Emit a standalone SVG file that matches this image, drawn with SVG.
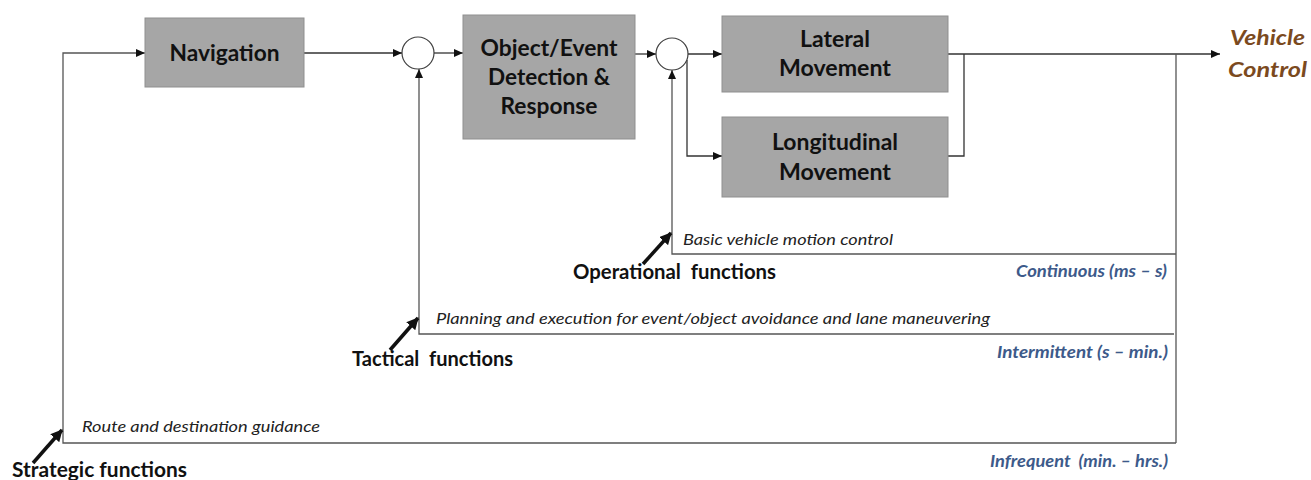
<svg xmlns="http://www.w3.org/2000/svg" width="1311" height="480" viewBox="0 0 1311 480">
<style>
text{lengthAdjust:spacingAndGlyphs}
.box{fill:#a6a6a6;stroke:#8f8f8f;stroke-width:1}
.sum{fill:#fff;stroke:#404040;stroke-width:1.2}
.bt{font-family:Lato,"Open Sans","Liberation Sans",sans-serif;font-weight:bold;font-size:23px;fill:#111;text-anchor:middle}
.ln{fill:none;stroke:#333;stroke-width:1.3}
.fb{fill:none;stroke:#555;stroke-width:1.3}
.it{font-family:Lato,"Open Sans","Liberation Sans",sans-serif;font-style:italic;font-size:16px;fill:#222}
.fn{font-family:Lato,"Open Sans","Liberation Sans",sans-serif;font-weight:bold;font-size:21px;fill:#111}
.fr{font-family:Lato,"Open Sans","Liberation Sans",sans-serif;font-weight:bold;font-style:italic;font-size:17px;fill:#3d5a8a;text-anchor:end}
.vc{font-family:Lato,"Open Sans","Liberation Sans",sans-serif;font-weight:bold;font-style:italic;font-size:20px;fill:#7b4a1e}
.fat{fill:none;stroke:#111;stroke-width:3.5}
</style>
<defs>
<marker id="ah" markerWidth="9" markerHeight="8" refX="9" refY="4" orient="auto" markerUnits="userSpaceOnUse">
<path d="M0,0 L9,4 L0,8 z" fill="#111"/>
</marker>
<marker id="fah" markerWidth="12" markerHeight="12" refX="11" refY="6" orient="auto" markerUnits="userSpaceOnUse">
<path d="M0,0 L12,6 L0,12 z" fill="#111"/>
</marker>
</defs>

<g id="connectors">
<path class="ln" d="M304,53 H402" marker-end="url(#ah)"/>
<path class="ln" d="M434,53 H463" marker-end="url(#ah)"/>
<path class="ln" d="M635,54 H656" marker-end="url(#ah)"/>
<path class="ln" d="M688,54 H722" marker-end="url(#ah)"/>
<path class="ln" d="M687,60 V156 H722" marker-end="url(#ah)"/>
<path class="ln" d="M948,54 H1220" marker-end="url(#ah)"/>
<path class="ln" d="M948,156 H964 V54"/>
<path class="fb" d="M1176,54 V443"/>
<path class="fb" d="M1176,254 H672 V70" marker-end="url(#ah)"/>
<path class="fb" d="M1174,334 H419 V69" marker-end="url(#ah)"/>
<path class="fb" d="M1176,443 H63 V53 H145" marker-end="url(#ah)"/>
<path class="fat" d="M643,264 L671,233" marker-end="url(#fah)"/>
<path class="fat" d="M390,350 L418,318" marker-end="url(#fah)"/>
<path class="fat" d="M33,463 L62,430" marker-end="url(#fah)"/>
</g>

<g id="navigation">
<rect class="box" x="145" y="18" width="159" height="69"/>
<text class="bt" x="224.5" y="61" textLength="110" lengthAdjust="spacingAndGlyphs">Navigation</text>
</g>

<g id="sum1">
<circle class="sum" cx="418" cy="53" r="16"/>
</g>

<g id="oedr">
<rect class="box" x="463" y="15" width="172" height="124"/>
<text class="bt" x="549" y="56" textLength="137" lengthAdjust="spacingAndGlyphs">Object/Event</text>
<text class="bt" x="549" y="85" textLength="122" lengthAdjust="spacingAndGlyphs">Detection &amp;</text>
<text class="bt" x="549" y="114" textLength="97" lengthAdjust="spacingAndGlyphs">Response</text>
</g>

<g id="sum2">
<circle class="sum" cx="672" cy="54" r="16"/>
</g>

<g id="lateral">
<rect class="box" x="722" y="16" width="226" height="76"/>
<text class="bt" x="835" y="47" textLength="70" lengthAdjust="spacingAndGlyphs">Lateral</text>
<text class="bt" x="835" y="76" textLength="112" lengthAdjust="spacingAndGlyphs">Movement</text>
</g>

<g id="longitudinal">
<rect class="box" x="722" y="117" width="226" height="80"/>
<text class="bt" x="835" y="150" textLength="126" lengthAdjust="spacingAndGlyphs">Longitudinal</text>
<text class="bt" x="835" y="180" textLength="112" lengthAdjust="spacingAndGlyphs">Movement</text>
</g>

<g id="vehicle-control">
<text class="vc" x="1230" y="45" textLength="75" lengthAdjust="spacingAndGlyphs">Vehicle</text>
<text class="vc" x="1228" y="77" textLength="79" lengthAdjust="spacingAndGlyphs">Control</text>
</g>

<g id="operational">
<text class="it" x="683" y="245" textLength="210" lengthAdjust="spacingAndGlyphs">Basic vehicle motion control</text>
<text class="fn" x="573" y="279" textLength="203" lengthAdjust="spacingAndGlyphs" xml:space="preserve">Operational  functions</text>
<text class="fr" x="1167" y="277" textLength="151" lengthAdjust="spacingAndGlyphs">Continuous (ms – s)</text>
</g>

<g id="tactical">
<text class="it" x="436" y="324" textLength="554" lengthAdjust="spacingAndGlyphs">Planning and execution for event/object avoidance and lane maneuvering</text>
<text class="fn" x="352" y="366" textLength="161" lengthAdjust="spacingAndGlyphs" xml:space="preserve">Tactical  functions</text>
<text class="fr" x="1168" y="358" textLength="171" lengthAdjust="spacingAndGlyphs">Intermittent (s – min.)</text>
</g>

<g id="strategic">
<text class="it" x="82" y="432" textLength="238" lengthAdjust="spacingAndGlyphs">Route and destination guidance</text>
<text class="fn" x="12" y="477" textLength="175" lengthAdjust="spacingAndGlyphs">Strategic functions</text>
<text class="fr" x="1168" y="467" textLength="178" lengthAdjust="spacingAndGlyphs" xml:space="preserve">Infrequent  (min. – hrs.)</text>
</g>
</svg>
